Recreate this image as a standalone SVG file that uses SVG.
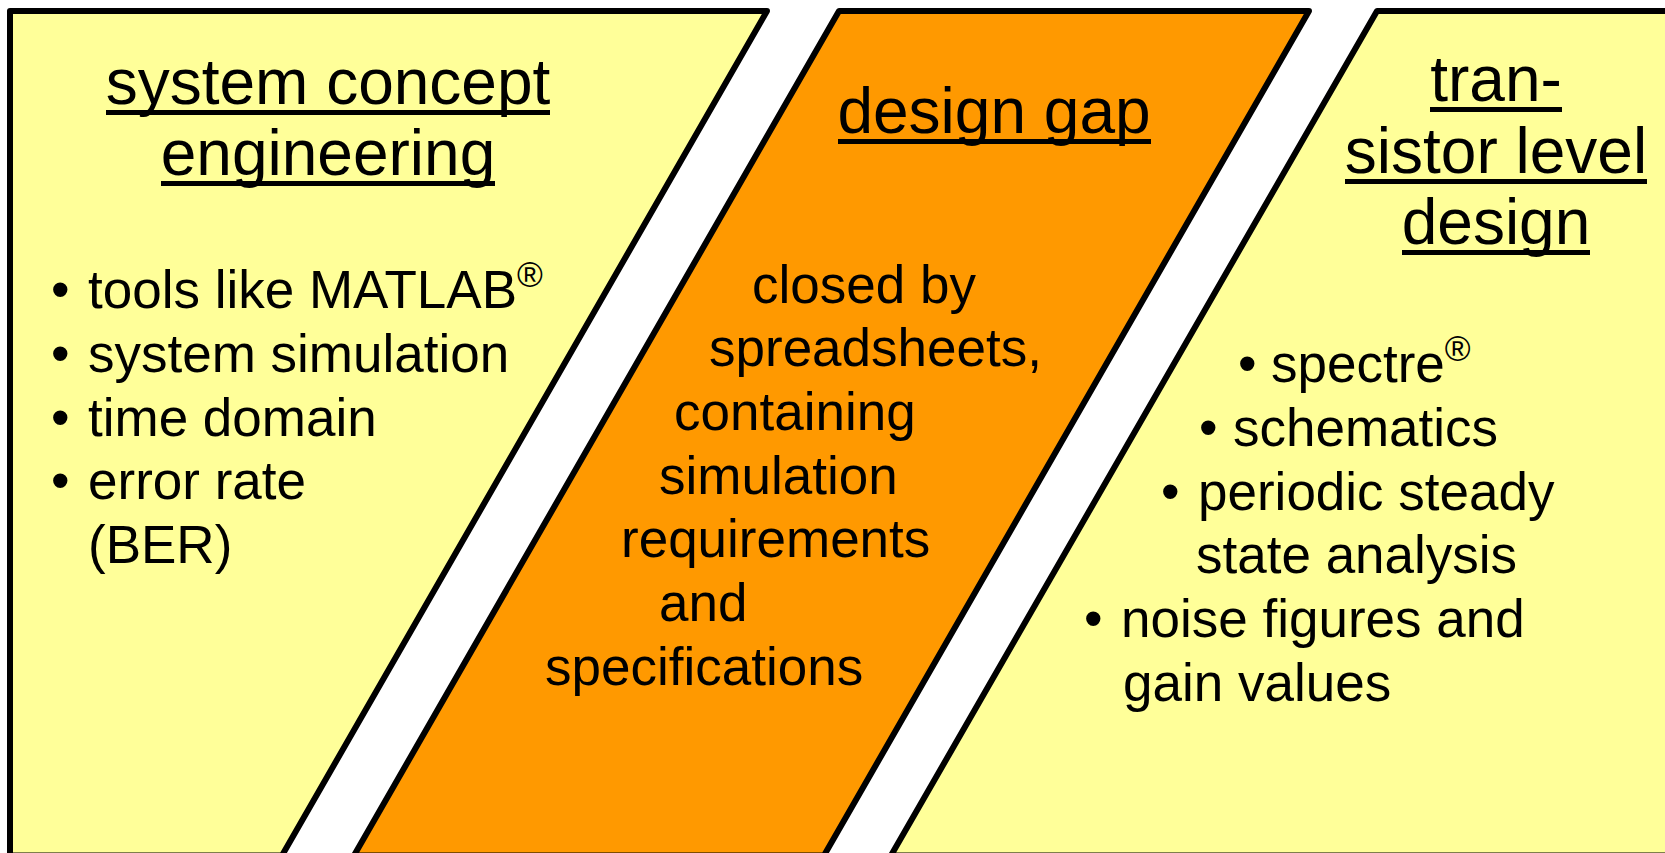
<svg xmlns="http://www.w3.org/2000/svg" width="1665" height="853" viewBox="0 0 1665 853">
<style>
.shape{stroke:#000;stroke-width:6;stroke-linejoin:round}
.y{fill:#FFFF99}
.o{fill:#FF9900}
text{font-family:"Liberation Sans",Arial,sans-serif;fill:#000}
.title{font-size:64px}
.ul{fill:#000}
.body{font-size:53px}
.sup{font-size:35px}
</style>
<rect width="1665" height="853" fill="#fff"/>
<g id="system-concept">
<path class="shape y" d="M10,11 L767,11 L282,855.5 L10,855.5 Z"/>
<text class="title" x="328" y="104" text-anchor="middle">system concept</text>
<rect class="ul" x="106" y="110" width="444" height="5"/>
<text class="title" x="328" y="175" text-anchor="middle">engineering</text>
<rect class="ul" x="161" y="181" width="334" height="5"/>
<text class="body" x="51" y="308">•</text><text class="body" x="88" y="308">tools like MATLAB<tspan class="sup" dy="-21">®</tspan></text>
<text class="body" x="51" y="372">•</text><text class="body" x="88" y="372">system simulation</text>
<text class="body" x="51" y="436">•</text><text class="body" x="88" y="436">time domain</text>
<text class="body" x="51" y="499">•</text><text class="body" x="88" y="499">error rate</text>
<text class="body" x="88" y="563">(BER)</text>
</g>
<g id="design-gap">
<path class="shape o" d="M839,11 L1309,11 L824,855.5 L354,855.5 Z"/>
<text class="title" x="994" y="133" text-anchor="middle">design gap</text>
<rect class="ul" x="838" y="139" width="313" height="5"/>
<text class="body" x="752" y="303">closed by</text>
<text class="body" x="709" y="366">spreadsheets,</text>
<text class="body" x="674" y="430">containing</text>
<text class="body" x="659" y="494">simulation</text>
<text class="body" x="621" y="557">requirements</text>
<text class="body" x="659" y="621">and</text>
<text class="body" x="545" y="685">specifications</text>
</g>
<g id="transistor-level-design">
<path class="shape y" d="M1377,11 L1680,11 L1680,855.5 L891,855.5 Z"/>
<text class="title" x="1496" y="101" text-anchor="middle">tran-</text>
<rect class="ul" x="1430" y="107" width="132" height="5"/>
<text class="title" x="1496" y="173" text-anchor="middle">sistor level</text>
<rect class="ul" x="1345" y="179" width="302" height="5"/>
<text class="title" x="1496" y="244" text-anchor="middle">design</text>
<rect class="ul" x="1402" y="250" width="188" height="5"/>
<text class="body" x="1238" y="382">•</text><text class="body" x="1271" y="382">spectre<tspan class="sup" dy="-21">®</tspan></text>
<text class="body" x="1199" y="446">•</text><text class="body" x="1233" y="446">schematics</text>
<text class="body" x="1161" y="510">•</text><text class="body" x="1198" y="510">periodic steady</text>
<text class="body" x="1196" y="573">state analysis</text>
<text class="body" x="1084" y="637">•</text><text class="body" x="1121" y="637">noise figures and</text>
<text class="body" x="1123" y="701">gain values</text>
</g>
<g id="connectors"></g>
</svg>
